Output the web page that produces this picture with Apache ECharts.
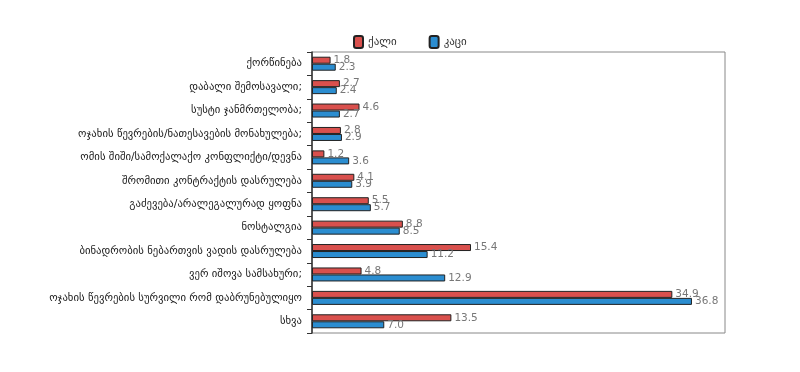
<!DOCTYPE html>
<html><head><meta charset="utf-8">
<script src="https://cdn.jsdelivr.net/npm/echarts@6/dist/echarts.min.js"></script>
<style>html,body{margin:0;padding:0;background:#fff}#c{width:800px;height:372px}</style>
</head><body><div id="c"></div>
<script>
const categories = [
  "ქორწინება",
  "დაბალი შემოსავალი;",
  "სუსტი ჯანმრთელობა;",
  "ოჯახის წევრების/ნათესავების მონახულება;",
  "ომის შიში/სამოქალაქო კონფლიქტი/დევნა",
  "შრომითი კონტრაქტის დასრულება",
  "გაძევება/არალეგალურად ყოფნა",
  "ნოსტალგია",
  "ბინადრობის ნებართვის ვადის დასრულება",
  "ვერ იშოვა სამსახური;",
  "ოჯახის წევრების სურვილი რომ დაბრუნებულიყო",
  "სხვა"
];
const seriesNames = ["ქალი", "კაცი"];
const women = [1.8, 2.7, 4.6, 2.8, 1.2, 4.1, 5.5, 8.8, 15.4, 4.8, 34.9, 13.5];
const men = [2.3, 2.4, 2.7, 2.9, 3.6, 3.9, 5.7, 8.5, 11.2, 12.9, 36.8, 7.0];

const chart = echarts.init(document.getElementById('c'));
const labelCfg = {show: true, position: 'right', distance: 3, color: '#777', fontSize: 10.5, fontFamily: 'DejaVu Sans', formatter: p => p.value.toFixed(1)};
chart.setOption({
  animation: false,
  textStyle: {fontFamily: 'DejaVu Sans'},
  legend: {
    top: 30, left: 348, itemWidth: 9, itemHeight: 12, itemGap: 32,
    textStyle: {fontSize: 11, color: '#333', fontFamily: 'DejaVu Sans'},
    data: seriesNames
  },
  grid: {left: 312, right: 75, top: 52, bottom: 39, show: true, borderColor: '#888', borderWidth: 1},
  xAxis: {type: 'value', min: 0, max: 40, show: false, splitLine: {show: false}},
  yAxis: {
    type: 'category', inverse: true, data: categories,
    axisLine: {lineStyle: {color: '#333', width: 1.5}},
    axisTick: {show: true, length: 5, lineStyle: {color: '#333'}},
    axisLabel: {fontSize: 10.7, color: '#222', margin: 10, fontFamily: 'DejaVu Sans'}
  },
  series: [
    {name: seriesNames[0], type: 'bar', data: women, barWidth: 7, barGap: '0%',
     itemStyle: {color: '#d9504d', borderColor: '#222', borderWidth: 1}, label: labelCfg},
    {name: seriesNames[1], type: 'bar', data: men, barWidth: 7, barGap: '0%',
     itemStyle: {color: '#2b8dd0', borderColor: '#222', borderWidth: 1}, label: labelCfg}
  ]
});
</script></body></html>
